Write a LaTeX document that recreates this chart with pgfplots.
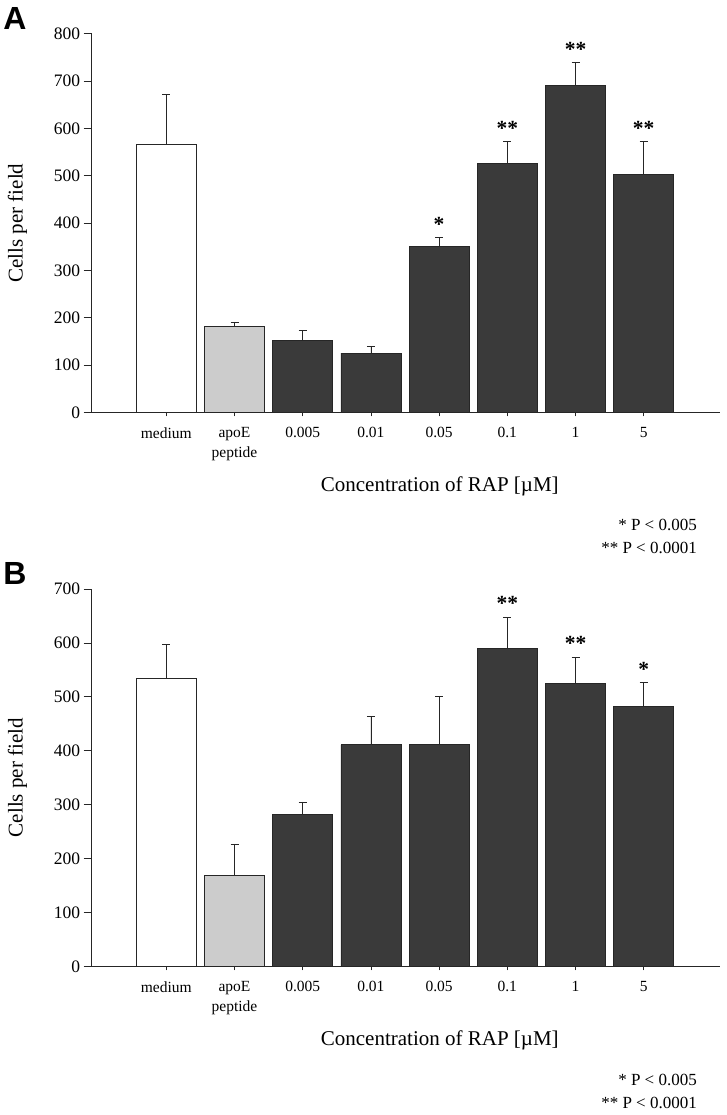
\documentclass[border=0pt]{standalone}
\usepackage{fontspec}
\setmainfont{Liberation Serif}
\newfontfamily\panelfont{Liberation Sans}
\usepackage{pgfplots}
\pgfplotsset{compat=1.18}
\definecolor{darkbar}{HTML}{3A3A3A}
\definecolor{lightbar}{HTML}{CCCCCC}
\definecolor{edge}{HTML}{262626}
\pgfplotsset{
  rapaxis/.style={
    width=628.3pt, scale only axis,
    xmin=-1.094, xmax=8.119, ymin=0,
    axis lines*=left,
    axis line style={line width=0.9pt, edge},
    xtick={0,...,7},
    xticklabels={medium,{apoE\\peptide},0.005,0.01,0.05,0.1,1,5},
    ytick distance=100,
    tick align=outside,
    major tick length=8pt,
    xtick style={/pgfplots/major tick length=4pt},
    tick style={line width=0.8pt, edge},
    xticklabel style={align=center, yshift=-3.5pt, font=\fontsize{15.5}{19.7}\selectfont},
    yticklabel style={font=\fontsize{17.5}{20}\selectfont},
    /pgf/number format/assume math mode=true,
    xlabel={Concentration of RAP [µM]},
    xlabel style={at={(rel axis cs:0.554,0)}, anchor=center, yshift=-73.7pt, font=\fontsize{21}{24}\selectfont},
    ylabel={Cells per field},
    ylabel style={at={(rel axis cs:0,0.5)}, anchor=center, yshift=74.2pt, font=\fontsize{21}{24}\selectfont},
    clip=false,
  },
  barbase/.style={ybar, bar width=60pt, bar shift=0pt, draw=edge, line width=0.8pt,
    error bars/y dir=plus, error bars/y explicit,
    error bars/error bar style={line width=0.8pt, edge},
    error bars/error mark options={rotate=90, mark size=4pt, line width=0.8pt, edge}},
  stars/.style={draw=none, mark=none, nodes near coords, point meta=explicit symbolic,
    every node near coord/.append style={inner sep=0pt, font=\fontsize{21.5}{21.5}\selectfont\bfseries}},
}
\begin{document}
\begin{tikzpicture}[x=1pt,y=1pt]
\useasboundingbox (0,0) rectangle (726,-1115);
% ---------- Panel A ----------
\begin{axis}[rapaxis, at={(91.7pt,-412.3pt)}, anchor=south west,
  height=378.6pt, ymax=800]
\addplot[barbase, fill=white] coordinates {(0,566) +- (0,106)};
\addplot[barbase, fill=lightbar] coordinates {(1,181) +- (0,8)};
\addplot[barbase, fill=darkbar] coordinates {
 (2,151) +- (0,22)
 (3,125) +- (0,14)
 (4,350) +- (0,20)
 (5,525) +- (0,47)
 (6,691) +- (0,48)
 (7,503) +- (0,69)};
\addplot[stars] table[meta=m] {
x y m
4 381 *
5 584 **
6 752 **
7 584 **
};
\end{axis}
\node[anchor=north east, align=right, font=\fontsize{17}{23}\selectfont, inner sep=0pt] at (697,-519) {* P < 0.005\\** P < 0.0001};
\node[font=\fontsize{32}{32}\selectfont\panelfont\bfseries] at (15,-18.5) {A};
% ---------- Panel B ----------
\begin{axis}[rapaxis, at={(91.7pt,-966.3pt)}, anchor=south west,
  height=377.3pt, ymax=700]
\addplot[barbase, fill=white] coordinates {(0,535) +- (0,62)};
\addplot[barbase, fill=lightbar] coordinates {(1,169) +- (0,58)};
\addplot[barbase, fill=darkbar] coordinates {
 (2,281) +- (0,24)
 (3,411) +- (0,53)
 (4,411) +- (0,89)
 (5,589) +- (0,59)
 (6,524) +- (0,49)
 (7,482) +- (0,45)};
\addplot[stars] table[meta=m] {
x y m
5 660 **
6 585 **
7 538 *
};
\end{axis}
\node[anchor=north east, align=right, font=\fontsize{17}{23}\selectfont, inner sep=0pt] at (697,-1074) {* P < 0.005\\** P < 0.0001};
\node[font=\fontsize{32}{32}\selectfont\panelfont\bfseries] at (15,-573) {B};
\end{tikzpicture}
\end{document}
